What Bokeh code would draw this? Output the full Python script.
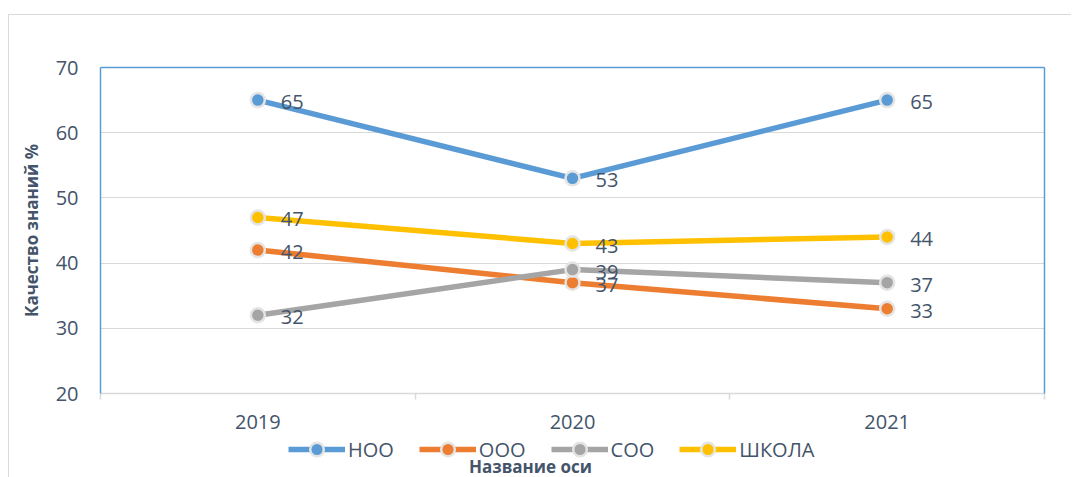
from bokeh.plotting import figure
from bokeh.layouts import column
from bokeh.models import (Range1d, FixedTicker, LinearAxis, Legend, LegendItem,
                          Label, ColumnDataSource)
from bokeh.core.properties import value
from bokeh.embed import file_html
from bokeh.resources import INLINE

# ---- data ----
years = ["2019", "2020", "2021"]
series_names = ["НОО", "ООО", "СОО", "ШКОЛА"]
noo = [65, 53, 65]
ooo = [42, 37, 33]
soo = [32, 39, 37]
shkola = [47, 43, 44]
y_ticks = [20, 30, 40, 50, 60, 70]
colors = ["#5B9BD5", "#ED7D31", "#A5A5A5", "#FFC000"]
y_title = "Качество знаний %"
x_title = "Название оси"

FONT = "Open Sans"
TEXT = "#44546A"
BLUE = "#5B9BD5"
LIGHT = "#D9D9D9"
MARK_EDGE = "#E4E4E4"

x_pos = [i + 0.5 for i in range(len(years))]
boundaries = list(range(len(years) + 1))

p = figure(frame_width=944, frame_height=326,
           x_range=Range1d(0, len(years)),
           y_range=Range1d(y_ticks[0], y_ticks[-1]),
           output_backend="svg", toolbar_location=None,
           min_border_left=91, min_border_top=52, min_border_right=27,
           min_border_bottom=43)
p.outline_line_color = None
p.background_fill_color = "white"
p.border_fill_color = "white"

# grid
p.xgrid.visible = False
p.ygrid.ticker = FixedTicker(ticks=y_ticks)
p.ygrid.grid_line_color = LIGHT
p.ygrid.grid_line_width = 1

# y axis
yax = p.yaxis[0]
yax.ticker = FixedTicker(ticks=y_ticks)
yax.axis_line_color = BLUE
yax.axis_line_width = 1.5
yax.major_tick_line_color = None
yax.minor_tick_line_color = None
yax.major_tick_out = 0
yax.major_tick_in = 0
yax.major_label_standoff = 22
yax.major_label_text_font = FONT
yax.major_label_text_font_size = "20px"
yax.major_label_text_color = TEXT
yax.axis_label = y_title
yax.axis_label_text_font = FONT
yax.axis_label_text_font_size = "17px"
yax.axis_label_text_font_style = "bold"
yax.axis_label_text_color = TEXT
yax.axis_label_standoff = 10

# x axis
xax = p.xaxis[0]
xax.ticker = FixedTicker(ticks=x_pos, minor_ticks=boundaries)
xax.major_label_overrides = {x: y for x, y in zip(x_pos, years)}
xax.axis_line_color = LIGHT
xax.axis_line_width = 1.5
xax.major_tick_line_color = None
xax.major_tick_out = 0
xax.major_tick_in = 0
xax.minor_tick_line_color = LIGHT
xax.minor_tick_line_width = 1.5
xax.minor_tick_out = 6
xax.minor_tick_in = 0
xax.major_label_standoff = 15
xax.major_label_text_font = FONT
xax.major_label_text_font_size = "20px"
xax.major_label_text_color = TEXT

# blue border top / right
for loc in ("above", "right"):
    ax = LinearAxis(ticker=FixedTicker(ticks=[]), axis_line_color=BLUE, axis_line_width=1.5,
                    major_tick_line_color=None, minor_tick_line_color=None,
                    major_label_text_font_size="0px")
    p.add_layout(ax, loc)

sources = []
for name, vals, c in zip(series_names, [noo, ooo, soo, shkola], colors):
    src = ColumnDataSource(dict(x=x_pos, y=vals, lbl=[str(v) for v in vals]))
    sources.append(src)
    p.line("x", "y", source=src, line_color=c, line_width=5.5)
    p.scatter("x", "y", source=src, size=14, fill_color=c,
              line_color=MARK_EDGE, line_width=2.5)

for src in sources:
    p.text("x", "y", text="lbl", source=src, x_offset=23, y_offset=2,
           text_font=value(FONT), text_font_size="20px", text_color=TEXT,
           text_baseline="middle", text_align="left")

# ---- legend strip below the chart (frame aligned with the chart's frame) ----
p2 = figure(width=1062, height=42, x_range=Range1d(0, 1), y_range=Range1d(-2, -1),
            x_axis_location=None, y_axis_location=None, toolbar_location=None,
            output_backend="svg", min_border=0)
p2.outline_line_color = None
p2.grid.visible = False

items = []
for name, c, src in zip(series_names, colors, sources):
    rl = p2.line("x", "y", source=src, line_color=c, line_width=5.5)
    rp = p2.scatter("x", "y", source=src, size=14, fill_color=c,
                    line_color=MARK_EDGE, line_width=2.5)
    items.append(LegendItem(label=name, renderers=[rl, rp]))

legend = Legend(items=items, orientation="horizontal", location=(188, 12),
                glyph_width=57, glyph_height=34, label_height=20,
                label_standoff=3, spacing=25,
                padding=0, margin=0, border_line_color=None,
                background_fill_alpha=0,
                label_text_font=FONT, label_text_font_size="20px",
                label_text_color=TEXT)
p2.add_layout(legend, "center")

p2.add_layout(Label(x=430, y=12, x_units="screen", y_units="screen", text=x_title,
                    text_align="center", text_baseline="middle",
                    text_font=FONT, text_font_size="17px", text_font_style="bold",
                    text_color=TEXT))

layout = column(p, p2, margin=(14, 0, 0, 8),
                styles={"border-left": "1px solid #D9D9D9", "border-top": "1px solid #D9D9D9"})

open("out.html", "w").write(file_html(layout, INLINE))
